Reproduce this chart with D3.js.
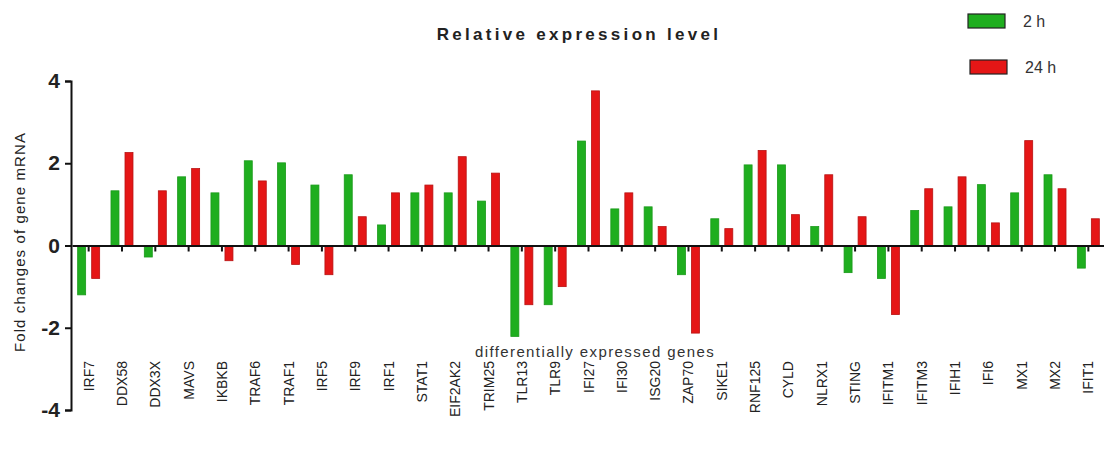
<!DOCTYPE html>
<html>
<head>
<meta charset="utf-8">
<script src="https://cdn.jsdelivr.net/npm/d3@7"></script>
<style>
  html, body { margin: 0; padding: 0; background: #fff; }
  svg { display: block; font-family: Arial, "Liberation Sans", sans-serif; }
</style>
</head>
<body>
<svg id="chart" width="1104" height="449"></svg>
<script>
// Genes on the x axis
const genes = ["IRF7", "DDX58", "DDX3X", "MAVS", "IKBKB", "TRAF6", "TRAF1", "IRF5", "IRF9", "IRF1",
  "STAT1", "EIF2AK2", "TRIM25", "TLR13", "TLR9", "IFI27", "IFI30", "ISG20", "ZAP70", "SIKE1",
  "RNF125", "CYLD", "NLRX1", "STING", "IFITM1", "IFITM3", "IFIH1", "IFI6", "MX1", "MX2", "IFIT1"];

// Fold change of mRNA at each time point
const values2h = [-1.20, 1.33, -0.28, 1.67, 1.28, 2.06, 2.01, 1.47, 1.72, 0.50,
  1.28, 1.28, 1.08, -2.21, -1.44, 2.54, 0.89, 0.94, -0.71, 0.65,
  1.96, 1.96, 0.46, -0.66, -0.80, 0.85, 0.94, 1.48, 1.28, 1.72, -0.55];
const values24h = [-0.80, 2.26, 1.33, 1.87, -0.37, 1.57, -0.46, -0.71, 0.70, 1.28,
  1.47, 2.16, 1.76, -1.44, -1.00, 3.76, 1.28, 0.46, -2.13, 0.41,
  2.31, 0.75, 1.72, 0.70, -1.68, 1.38, 1.67, 0.55, 2.55, 1.38, 0.65];

const seriesNames = ["2 h", "24 h"];
const seriesColors = ["#1fae1f", "#e51616"];
const seriesStrokes = ["#1a9a1a", "#b81212"];
const yTicks = [-4, -2, 0, 2, 4];

const svg = d3.select("#chart");

const y = d3.scaleLinear().domain([-4, 4]).range([410, 81]);
const x = d3.scaleBand().domain(genes).range([72, 1105]).padding(0);
const half = x.bandwidth() / 2;
const x1 = d3.scaleBand().domain(seriesNames)
  .range([half - 11, half + 11]).paddingInner(0.43).paddingOuter(0);

const rows = genes.map((g, i) => ({ gene: g, vals: [values2h[i], values24h[i]] }));

// Bars
const groups = svg.append("g").selectAll("g").data(rows).join("g")
  .attr("transform", d => `translate(${x(d.gene)},0)`);
groups.selectAll("rect")
  .data(d => d.vals.map((v, k) => ({ v, k })))
  .join("rect")
  .attr("x", d => x1(seriesNames[d.k]))
  .attr("width", x1.bandwidth())
  .attr("y", d => y(Math.max(0, d.v)))
  .attr("height", d => Math.abs(y(d.v) - y(0)))
  .attr("fill", d => seriesColors[d.k])
  .attr("stroke", d => seriesStrokes[d.k])
  .attr("stroke-width", 0.8);

// Y axis
const yAxis = svg.append("g")
  .attr("transform", "translate(71,0)")
  .call(d3.axisLeft(y).tickValues(yTicks).tickSize(6).tickPadding(5).tickFormat(d => d < 0 ? "-" + Math.abs(d) : d));
yAxis.select(".domain").attr("stroke", "#111").attr("stroke-width", 2);
yAxis.selectAll(".tick line").attr("stroke", "#111").attr("stroke-width", 2);
yAxis.selectAll(".tick text")
  .attr("font-size", 21).attr("font-weight", "bold").attr("fill", "#222")
  .attr("font-family", "Arial, 'Liberation Sans', sans-serif");

// X axis along zero, tick labels placed separately below the plot
const xAxis = svg.append("g")
  .attr("transform", `translate(0,${y(0)})`)
  .call(d3.axisBottom(x).tickSize(6).tickSizeOuter(0).tickFormat(""));
xAxis.select(".domain").attr("stroke", "#111").attr("stroke-width", 2);
xAxis.selectAll(".tick line").attr("stroke", "#111").attr("stroke-width", 2);

svg.append("g").selectAll("text").data(genes).join("text")
  .attr("transform", d => `translate(${x(d) + half + 5},361) rotate(-90)`)
  .attr("text-anchor", "end")
  .attr("font-size", 14)
  .attr("fill", "#222")
  .text(d => d);

// Axis titles
svg.append("text")
  .attr("transform", "translate(25,242) rotate(-90)")
  .attr("text-anchor", "middle")
  .attr("font-size", 15)
  .attr("letter-spacing", 1.1)
  .attr("fill", "#222")
  .text("Fold changes of gene mRNA");

svg.append("text")
  .attr("x", 595).attr("y", 357)
  .attr("text-anchor", "middle")
  .attr("font-size", 15)
  .attr("letter-spacing", 1.4)
  .attr("fill", "#333")
  .text("differentially expressed genes");

// Chart title
svg.append("text")
  .attr("x", 579).attr("y", 40)
  .attr("text-anchor", "middle")
  .attr("font-size", 17)
  .attr("font-weight", "bold")
  .attr("letter-spacing", 3.3)
  .attr("fill", "#222")
  .text("Relative expression level");

// Legend
const legend = svg.append("g").selectAll("g").data(seriesNames).join("g")
  .attr("transform", (d, i) => `translate(${968 + i * 2},${14 + i * 46})`);
legend.append("rect")
  .attr("width", 37).attr("height", 14)
  .attr("fill", (d, i) => seriesColors[i])
  .attr("stroke", "#222").attr("stroke-width", 1.2);
legend.append("text")
  .attr("x", 55).attr("y", 13)
  .attr("font-size", 16)
  .attr("fill", "#333")
  .text(d => d);
</script>
</body>
</html>
